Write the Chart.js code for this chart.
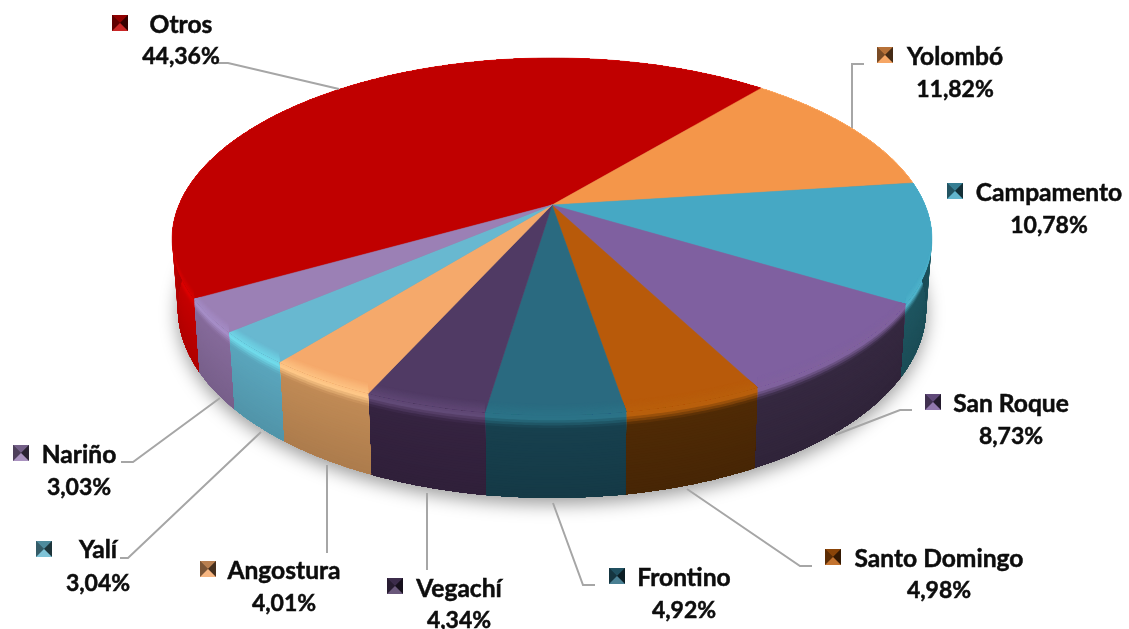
<!DOCTYPE html>
<html lang="es">
<head>
<meta charset="utf-8">
<title>Participación por municipio</title>
<script src="https://cdn.jsdelivr.net/npm/chart.js@4"></script>
<style>
  html, body { margin: 0; padding: 0; background: #fff; overflow: hidden; }
  canvas { display: block; }
</style>
</head>
<body>
<canvas id="chart" width="1129" height="629"></canvas>
<script>
const categories = ['Otros', 'Yolombó', 'Campamento', 'San Roque', 'Santo Domingo', 'Frontino', 'Vegachí', 'Angostura', 'Yalí', 'Nariño'];
const shares = [44.36, 11.82, 10.78, 8.73, 4.98, 4.92, 4.34, 4.01, 3.04, 3.03];
const shareLabels = ['44,36%', '11,82%', '10,78%', '8,73%', '4,98%', '4,92%', '4,34%', '4,01%', '3,04%', '3,03%'];

const faceColors = ['#c00000', '#f4964a', '#46a8c4', '#7f60a0', '#b85a0a', '#2a6a80', '#503a64', '#f5a96b', '#68b8d0', '#9b80b5'];
const rimColors = ['#dc0000', '#ffb070', '#50b4cc', '#80629e', '#b9600c', '#2b7488', '#624a78', '#ffc888', '#70dcec', '#a68ec8'];
const wallColors = ['#c40000', '#a06030', '#1e5560', '#352840', '#4f2a05', '#17404e', '#352340', '#c08a55', '#5aa5bc', '#856a9a'];

// label layout: marker left/top, name and share centre x, name y, share y
const labelBoxes = [
  [112, 15, 181, 25, 57],
  [877, 47, 955, 57, 90],
  [947, 183, 1049, 193, 226],
  [925, 394, 1011, 404, 437],
  [825, 549, 939, 559, 591],
  [609, 568, 684, 578, 611],
  [387, 578, 459, 589, 621],
  [200, 561, 284, 571, 604],
  [36, 541, 98, 550, 584],
  [13, 445, 79, 455, 488]
];
const leaderLines = [
  [[216, 63], [228, 63], [339, 89]],
  [[864, 64], [852, 64], [852, 128]],
  null,
  [[912, 410], [900, 410], [835, 435]],
  [[812, 566], [800, 566], [687, 489]],
  [[595, 585], [583, 585], [553, 503]],
  [[427, 570], [427, 493]],
  [[327, 553], [327, 465]],
  [[120, 558], [128, 558], [261, 432]],
  [[121, 462], [133, 462], [220, 398]]
];

// perspective of the disc on the page
const centerX = 552;
const centerY = 205;
const radiusX = 373;
const radiusY = 173;
const tiltX = 0.19;
const tiltY = 0.1765;
const wallDepth = 66;

function project(angle, t) {
  const X = Math.cos(angle);
  const Y = Math.sin(angle);
  return [
    centerX + radiusX * (1 - 0.015 * t) * X / (1 - tiltX * Y),
    centerY + wallDepth * t + radiusY * (1 + 0.08 * t) * Y / (1 - tiltY * Y)
  ];
}

function arcPoints(start, end, t) {
  const steps = Math.max(2, Math.ceil((end - start) / 0.008));
  const pts = [];
  for (let i = 0; i <= steps; i++) {
    pts.push(project(start + (end - start) * i / steps, t));
  }
  return pts;
}

function tracePoints(ctx, pts) {
  ctx.beginPath();
  pts.forEach((p, i) => i ? ctx.lineTo(p[0], p[1]) : ctx.moveTo(p[0], p[1]));
  ctx.closePath();
}

function toRgb(hex) {
  return [1, 3, 5].map(i => parseInt(hex.slice(i, i + 2), 16));
}

function mix(a, b, k) {
  const ca = toRgb(a);
  const cb = toRgb(b);
  return 'rgb(' + ca.map((v, i) => Math.round(v + (cb[i] - v) * k)).join(',') + ')';
}

// colour down the edge: face, soft highlight, then the wall
function edgeShade(i, t) {
  if (t < 0.03) return mix(faceColors[i], rimColors[i], (t + 0.14) / 0.17);
  if (t < 0.14) return mix(rimColors[i], wallColors[i], (t - 0.03) / 0.11);
  return mix(wallColors[i], '#000000', (t - 0.14) * 0.12);
}

function drawShadow(ctx) {
  ctx.save();
  ctx.shadowColor = 'rgba(0,0,0,0.4)';
  ctx.shadowBlur = 18;
  ctx.shadowOffsetY = 6;
  ctx.fillStyle = '#888';
  tracePoints(ctx, arcPoints(0, Math.PI * 2, 1));
  ctx.fill();
  ctx.restore();
}

function drawWalls(ctx, arcs) {
  const layers = 32;
  arcs.forEach((arc, i) => {
    const bottom = arcPoints(arc.startAngle, arc.endAngle, 1).reverse();
    for (let k = 0; k < layers; k++) {
      const t = k / layers;
      ctx.fillStyle = edgeShade(i, t);
      tracePoints(ctx, arcPoints(arc.startAngle, arc.endAngle, t).concat(bottom));
      ctx.fill();
    }
  });
}

function drawFaces(ctx, arcs) {
  arcs.forEach((arc, i) => {
    const face = [[centerX, centerY]].concat(arcPoints(arc.startAngle, arc.endAngle, 0));
    ctx.fillStyle = faceColors[i];
    ctx.strokeStyle = faceColors[i];
    ctx.lineWidth = 0.5;
    tracePoints(ctx, face);
    ctx.fill();
    ctx.stroke();

    // bevel on the front of the face, the back falls outside the clip
    ctx.save();
    tracePoints(ctx, face);
    ctx.clip();
    const rim = arcPoints(arc.startAngle, arc.endAngle, 0).reverse();
    for (let t = -0.14; t < 0; t += 0.01) {
      ctx.fillStyle = edgeShade(i, t);
      tracePoints(ctx, arcPoints(arc.startAngle, arc.endAngle, t).concat(rim));
      ctx.fill();
    }
    ctx.restore();
  });
}

function drawLeaders(ctx) {
  ctx.strokeStyle = '#a6a6a6';
  ctx.lineWidth = 2;
  leaderLines.forEach(line => {
    if (!line) return;
    ctx.beginPath();
    line.forEach((p, i) => i ? ctx.lineTo(p[0], p[1]) : ctx.moveTo(p[0], p[1]));
    ctx.stroke();
  });
}

function drawMarker(ctx, x, y, color) {
  const s = 16;
  const cx = x + s / 2;
  const cy = y + s / 2;
  const sides = [
    [[x, y], [x + s, y], mix(color, '#000000', 0.25)],
    [[x, y], [x, y + s], mix(color, '#000000', 0.5)],
    [[x + s, y], [x + s, y + s], mix(color, '#000000', 0.72)],
    [[x, y + s], [x + s, y + s], mix(color, '#ffffff', 0.15)]
  ];
  ctx.fillStyle = mix(color, '#000000', 0.5);
  ctx.fillRect(x, y, s, s);
  sides.forEach(([a, b, fill]) => {
    ctx.fillStyle = fill;
    tracePoints(ctx, [a, b, [cx, cy]]);
    ctx.fill();
  });
}

function drawText(ctx, text, x, y) {
  ctx.fillText(text, x, y);
  ctx.strokeText(text, x, y);
}

function drawLabels(ctx) {
  ctx.textAlign = 'center';
  ctx.textBaseline = 'middle';
  ctx.lineWidth = 0.5;
  categories.forEach((name, i) => {
    const [mx, my, tx, nameY, shareY] = labelBoxes[i];
    drawMarker(ctx, mx, my, faceColors[i]);
    ctx.fillStyle = '#0d0d0d';
    ctx.strokeStyle = '#0d0d0d';
    ctx.font = 'bold 24.6px Lato, "Open Sans", sans-serif';
    drawText(ctx, name, tx, nameY);
    ctx.font = 'bold 23px Lato, "Open Sans", sans-serif';
    drawText(ctx, shareLabels[i], tx, shareY);
  });
}

// draws the arcs chart.js laid out, tilted, with walls and labels
const tiltedPie = {
  id: 'tiltedPie',
  beforeDatasetsDraw(chart) {
    const ctx = chart.ctx;
    const arcs = chart.getDatasetMeta(0).data;
    drawShadow(ctx);
    drawWalls(ctx, arcs);
    drawFaces(ctx, arcs);
    drawLeaders(ctx);
    drawLabels(ctx);
    return false;
  }
};

new Chart(document.getElementById('chart'), {
  type: 'pie',
  data: {
    labels: categories,
    datasets: [{ data: shares, backgroundColor: faceColors, borderWidth: 0 }]
  },
  options: {
    responsive: false,
    animation: false,
    rotation: 240.3,
    plugins: { legend: { display: false }, tooltip: { enabled: false } }
  },
  plugins: [tiltedPie]
});
</script>
</body>
</html>
